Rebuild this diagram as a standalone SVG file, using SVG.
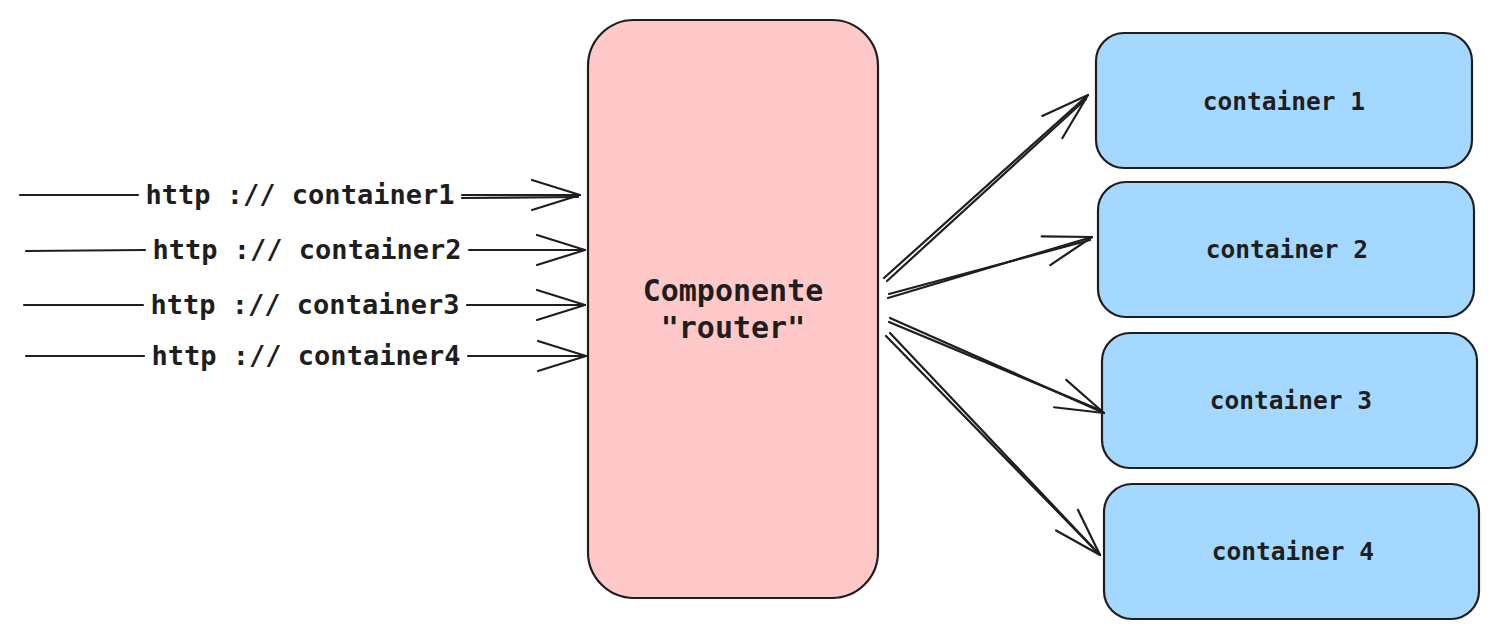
<svg xmlns="http://www.w3.org/2000/svg" width="1500" height="640" viewBox="0 0 1500 640">
<style>
.box{stroke:#1e1e1e;stroke-width:2.2}
.router{fill:#ffc9c9}
.cont{fill:#a5d8ff}
.t{font-family:"DejaVu Sans Mono","Liberation Mono",monospace;fill:#1e1e1e;text-anchor:middle}
.lbl{font-size:27px;font-weight:bold}
.ct{font-size:24.5px;font-weight:bold}
.rt{font-size:30px;font-weight:bold}
.ln{stroke:#1e1e1e;stroke-width:2.2;fill:none;stroke-linecap:round}
</style>
<defs>
<marker id="ah" markerUnits="userSpaceOnUse" markerWidth="60" markerHeight="40" refX="0" refY="0" viewBox="-50 -20 60 40" orient="auto" overflow="visible">
<path d="M-48,-15 L0,0 L-48,15" fill="none" stroke="#1e1e1e" stroke-width="2.2" stroke-linecap="round" stroke-linejoin="round"/>
</marker>
</defs>
<g id="router">
<rect class="box router" x="588" y="20" width="290" height="578" rx="46"/>
<text class="t rt" x="733" y="301">Componente</text>
<text class="t rt" x="733" y="338">"router"</text>
</g>
<g id="container1">
<rect class="box cont" x="1096" y="33" width="376" height="135" rx="28"/>
<text class="t ct" x="1284" y="110">container 1</text>
</g>
<g id="container2">
<rect class="box cont" x="1098" y="182" width="376" height="135" rx="28"/>
<text class="t ct" x="1287" y="258">container 2</text>
</g>
<g id="container3">
<rect class="box cont" x="1102" y="333" width="375" height="135" rx="28"/>
<text class="t ct" x="1291" y="409">container 3</text>
</g>
<g id="container4">
<rect class="box cont" x="1104" y="484" width="375" height="135" rx="28"/>
<text class="t ct" x="1293" y="560">container 4</text>
</g>
<g id="connectors">
<line class="ln" x1="20" y1="195" x2="138" y2="195"/>
<line class="ln" x1="462" y1="195" x2="580" y2="195" marker-end="url(#ah)"/>
<line class="ln" x1="462" y1="198" x2="578" y2="197"/>
<text class="t lbl" x="300" y="204">http :// container1</text>
<line class="ln" x1="26" y1="251" x2="145" y2="250"/>
<line class="ln" x1="469" y1="250" x2="585" y2="250" marker-end="url(#ah)"/>
<text class="t lbl" x="307" y="259">http :// container2</text>
<line class="ln" x1="24" y1="305" x2="143" y2="305"/>
<line class="ln" x1="467" y1="305" x2="585" y2="305" marker-end="url(#ah)"/>
<text class="t lbl" x="305" y="314">http :// container3</text>
<line class="ln" x1="26" y1="356" x2="144" y2="356"/>
<line class="ln" x1="468" y1="356" x2="586" y2="356" marker-end="url(#ah)"/>
<text class="t lbl" x="306" y="365">http :// container4</text>
<line class="ln" x1="884" y1="278" x2="1088" y2="95" marker-end="url(#ah)"/>
<line class="ln" x1="887" y1="281" x2="1086" y2="99"/>
<line class="ln" x1="888" y1="298" x2="1092" y2="237" marker-end="url(#ah)"/>
<line class="ln" x1="889" y1="294" x2="1090" y2="240"/>
<line class="ln" x1="890" y1="318" x2="1104" y2="413" marker-end="url(#ah)"/>
<line class="ln" x1="889" y1="322" x2="1100" y2="410"/>
<line class="ln" x1="890" y1="333" x2="1100" y2="555" marker-end="url(#ah)"/>
<line class="ln" x1="886" y1="336" x2="1097" y2="552"/>
</g>
</svg>
